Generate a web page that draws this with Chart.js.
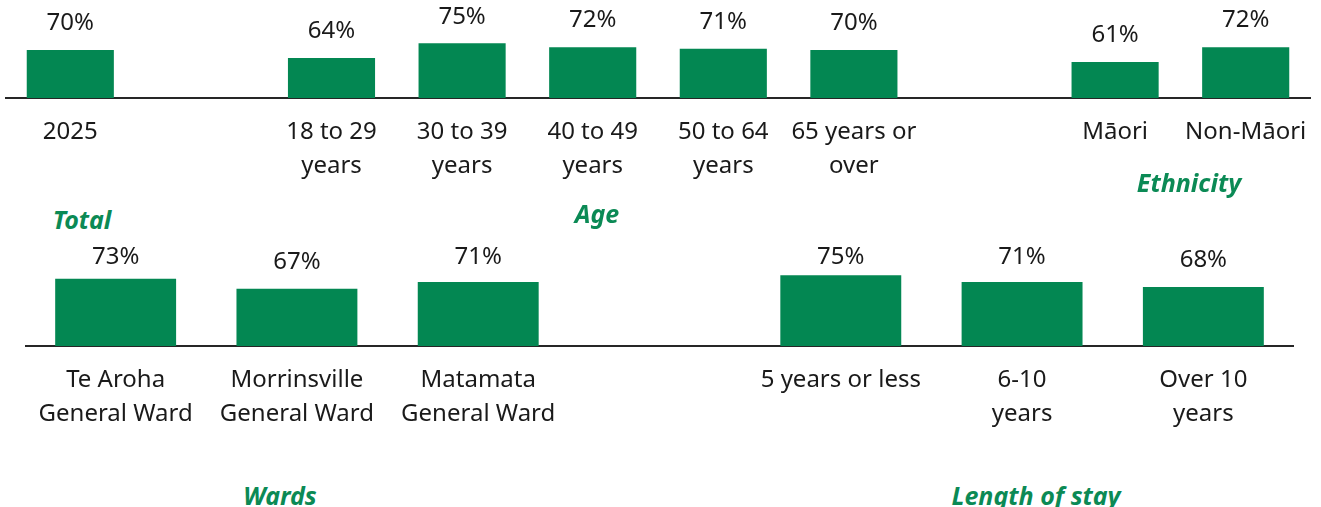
<!DOCTYPE html>
<html>
<head>
<meta charset="utf-8">
<script src="https://cdn.jsdelivr.net/npm/chart.js@4"></script>
<style>
  body { margin: 0; background: #fff; width: 1321px; height: 507px; position: relative; overflow: hidden; }
  .box { position: absolute; }
  .group {
    position: absolute;
    transform: translate(-50%, -50%);
    font-family: "Noto Sans", sans-serif;
    font-weight: bold;
    font-style: italic;
    font-size: 25px;
    color: #0b8a55;
    white-space: nowrap;
  }
</style>
</head>
<body>
<div class="box" style="left:5px;top:0;"><canvas id="topChart" width="1306" height="200"></canvas></div>
<div class="box" style="left:25px;top:240px;"><canvas id="bottomChart" width="1269" height="200"></canvas></div>

<div class="group" style="left:82px;top:219px;">Total</div>
<div class="group" style="left:597px;top:213px;">Age</div>
<div class="group" style="left:1189px;top:182px;">Ethnicity</div>
<div class="group" style="left:280px;top:495px;">Wards</div>
<div class="group" style="left:1036px;top:495px;">Length of stay</div>

<script>
// top panel: total, age, ethnicity ('' = gap between groups)
const topLabels = ['2025', '', ['18 to 29', 'years'], ['30 to 39', 'years'], ['40 to 49', 'years'],
  ['50 to 64', 'years'], ['65 years or', 'over'], '', 'Māori', 'Non-Māori'];
const topValues = [70, null, 64, 75, 72, 71, 70, null, 61, 72];

// bottom panel: wards, length of stay
const bottomLabels = [['Te Aroha', 'General Ward'], ['Morrinsville', 'General Ward'], ['Matamata', 'General Ward'],
  '', '5 years or less', ['6-10', 'years'], ['Over 10', 'years']];
const bottomValues = [73, 67, 71, null, 75, 71, 68];

const green = '#038752';
const textColor = '#1a1a1a';

// percent labels above each bar, pushed down if they would leave the top
const valueLabels = {
  id: 'valueLabels',
  afterDatasetsDraw(chart) {
    const ctx = chart.ctx;
    const meta = chart.getDatasetMeta(0);
    const vals = chart.data.datasets[0].data;
    ctx.save();
    ctx.font = '24px "Noto Sans"';
    ctx.fillStyle = textColor;
    ctx.textAlign = 'center';
    ctx.textBaseline = 'middle';
    meta.data.forEach((bar, i) => {
      if (vals[i] == null) return;
      const y = Math.max(bar.y - 27, chart.chartArea.top + 17);
      ctx.fillText(vals[i] + '%', bar.x, y);
    });
    ctx.restore();
  }
};

function makeChart(id, labels, values, yMin, yMax, axisH) {
  return new Chart(document.getElementById(id), {
    type: 'bar',
    data: {
      labels: labels,
      datasets: [{
        data: values,
        backgroundColor: green,
        categoryPercentage: 1,
        barPercentage: 0.667,
      }],
    },
    options: {
      responsive: false,
      animation: false,
      layout: { padding: 0 },
      plugins: {
        legend: { display: false },
        tooltip: { enabled: false },
      },
      scales: {
        x: {
          grid: { display: false, drawTicks: false },
          border: { display: true, color: '#262626', width: 2 },
          ticks: {
            color: textColor,
            font: { family: 'Noto Sans', size: 24, lineHeight: 1.417 },
            padding: 17,
            autoSkip: false,
            maxRotation: 0,
            minRotation: 0,
          },
          afterFit: (scale) => {
            scale.height = axisH;
            scale.paddingLeft = 0;
            scale.paddingRight = 0;
          },
        },
        y: {
          display: false,
          min: yMin,
          max: yMax,
        },
      },
    },
    plugins: [valueLabels],
  });
}

makeChart('topChart', topLabels, topValues, 34, 107.5, 102);
makeChart('bottomChart', bottomLabels, bottomValues, 32.8, 96.1, 94);
</script>
</body>
</html>
